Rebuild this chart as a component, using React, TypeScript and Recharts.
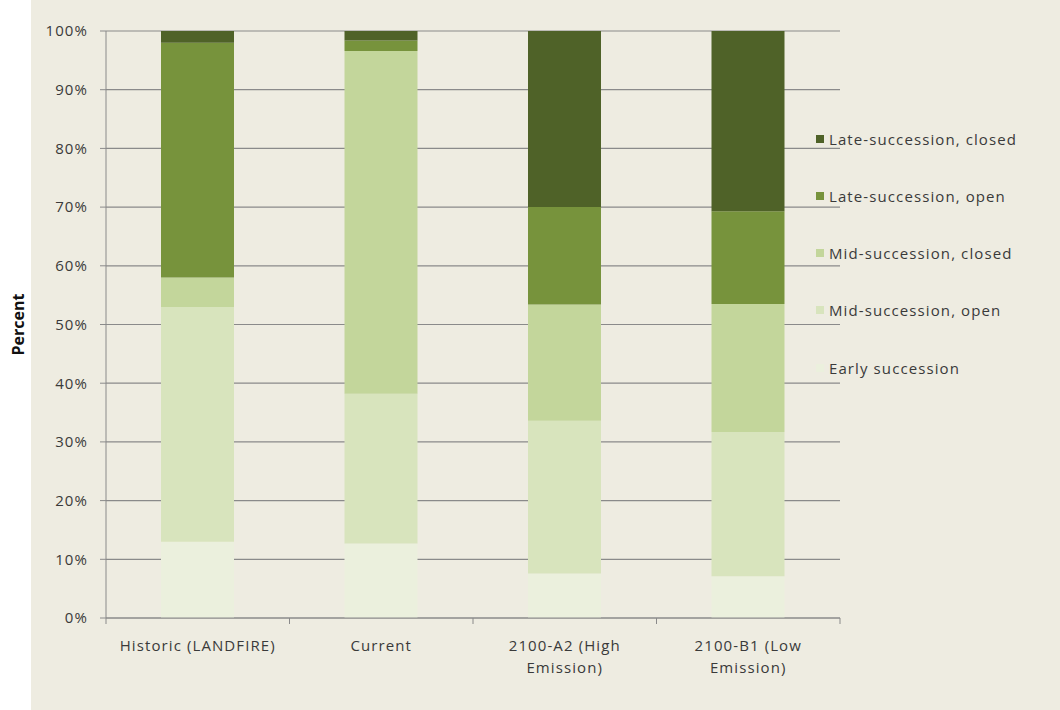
import React from 'react';
import { BarChart, Bar, XAxis, YAxis, CartesianGrid, Legend } from 'recharts';

// Scenario categories (x axis)
const categories = ['Historic (LANDFIRE)', 'Current', '2100-A2 (High Emission)', '2100-B1 (Low Emission)'];
// How the category labels wrap under the axis
const tickLines: Record<string, string[]> = {
  'Historic (LANDFIRE)': ['Historic (LANDFIRE)'],
  Current: ['Current'],
  '2100-A2 (High Emission)': ['2100-A2 (High', 'Emission)'],
  '2100-B1 (Low Emission)': ['2100-B1 (Low', 'Emission)'],
};

// Percent of area in each succession class, bottom to top of the stack
const earlySuccession = [13, 12.7, 7.6, 7.1];
const midOpen = [40, 25.5, 26, 24.6];
const midClosed = [5, 58.4, 19.8, 21.8];
const lateOpen = [40, 1.8, 16.6, 15.8];
const lateClosed = [2, 1.6, 30, 30.7];

const yTicks = [0, 10, 20, 30, 40, 50, 60, 70, 80, 90, 100];

const FONT = '"Open Sans", "DejaVu Sans", sans-serif';
const FONT_SIZE = 15;
const SPACING = 1.1;
const AXIS_GRAY = '#8a8a8a';
const TEXT = '#3a3a3a';

const series = [
  { key: 'early', label: 'Early succession', color: '#ebf0dd', values: earlySuccession },
  { key: 'midOpen', label: 'Mid-succession, open', color: '#d8e4bd', values: midOpen },
  { key: 'midClosed', label: 'Mid-succession, closed', color: '#c3d69b', values: midClosed },
  { key: 'lateOpen', label: 'Late-succession, open', color: '#77933c', values: lateOpen },
  { key: 'lateClosed', label: 'Late-succession, closed', color: '#4f6228', values: lateClosed },
];

const data = categories.map((name, i) => {
  const row: Record<string, string | number> = { name };
  series.forEach((s) => {
    row[s.key] = s.values[i];
  });
  return row;
});

function CategoryTick(props: any) {
  const { x, y, payload, index, visibleTicksCount, width } = props;
  const count = visibleTicksCount || categories.length;
  const band = width ? width / count : 183.5;
  const axisY = y - 6;
  const lines = tickLines[payload.value] || [payload.value];
  const left = x - band / 2;
  const right = x + band / 2;
  return (
    <g>
      <line x1={left} y1={axisY} x2={left} y2={axisY + 6} stroke={AXIS_GRAY} />
      {index === count - 1 && <line x1={right} y1={axisY} x2={right} y2={axisY + 6} stroke={AXIS_GRAY} />}
      <text
        x={x}
        y={y}
        textAnchor="middle"
        fill={TEXT}
        fontFamily={FONT}
        fontSize={FONT_SIZE}
        letterSpacing={SPACING}
      >
        {lines.map((ln, i) => (
          <tspan key={i} x={x} dy={i === 0 ? 27 : 22}>
            {ln}
          </tspan>
        ))}
      </text>
    </g>
  );
}

function PercentLabel(props: any) {
  const vb = props.viewBox || { x: 0, y: 31, height: 587 };
  const cx = vb.x + 18;
  const cy = vb.y + vb.height / 2;
  return (
    <text
      x={cx}
      y={cy}
      transform={`rotate(-90 ${cx} ${cy})`}
      textAnchor="middle"
      dominantBaseline="central"
      fontFamily={FONT}
      fontWeight={700}
      fontSize={16}
      fill="#111"
    >
      Percent
    </text>
  );
}

function SuccessionLegend() {
  const items = [...series].reverse();
  return (
    <div style={{ fontFamily: FONT, fontSize: FONT_SIZE, color: TEXT, letterSpacing: SPACING }}>
      {items.map((s) => (
        <div key={s.key} style={{ height: 57.25, display: 'flex', alignItems: 'center' }}>
          <span style={{ width: 8, height: 8, background: s.color, marginRight: 5, display: 'inline-block' }} />
          <span>{s.label}</span>
        </div>
      ))}
    </div>
  );
}

export default function App() {
  return (
    <div
      style={{
        position: 'absolute',
        left: 0,
        top: 0,
        width: 1060,
        height: 710,
        background: 'linear-gradient(to right, #ffffff 31px, #eeece1 31px)',
      }}
    >
      <BarChart width={1060} height={710} data={data} margin={{ top: 31, right: 220, bottom: 0, left: 0 }}>
        <CartesianGrid vertical={false} stroke={AXIS_GRAY} strokeWidth={1.2} />
        <XAxis
          dataKey="name"
          interval={0}
          tickLine={false}
          tickSize={6}
          tickMargin={0}
          axisLine={{ stroke: AXIS_GRAY }}
          tick={<CategoryTick />}
          height={92}
        />
        <YAxis
          width={106}
          domain={[0, 100]}
          ticks={yTicks}
          tickFormatter={(v: number) => `${v}%`}
          tickSize={6}
          tickMargin={12}
          tickLine={{ stroke: AXIS_GRAY }}
          axisLine={{ stroke: AXIS_GRAY }}
          tick={{ fill: TEXT, fontSize: FONT_SIZE, fontFamily: FONT, letterSpacing: SPACING }}
          label={<PercentLabel />}
        />
        <Legend
          layout="horizontal"
          align="center"
          verticalAlign="middle"
          content={() => <SuccessionLegend />}
          wrapperStyle={{ left: 816, top: 110, width: 244 }}
        />
        {series.map((s) => (
          <Bar
            key={s.key}
            dataKey={s.key}
            name={s.label}
            stackId="stack"
            fill={s.color}
            barSize={73}
            isAnimationActive={false}
          />
        ))}
      </BarChart>
    </div>
  );
}
